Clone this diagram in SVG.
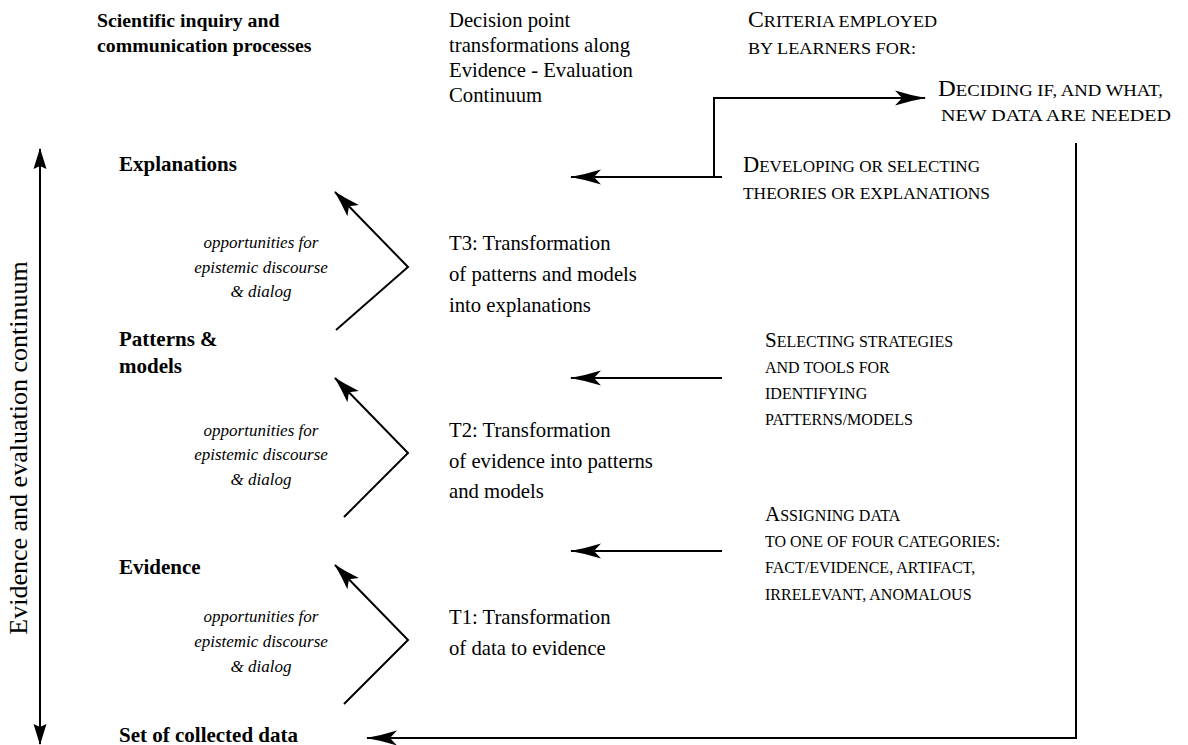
<svg xmlns="http://www.w3.org/2000/svg" width="1188" height="745" viewBox="0 0 1188 745">
<style>
text{font-family:"Liberation Serif","Times New Roman",serif;fill:#000}
.b{font-weight:bold;font-size:21px}
.hb{font-weight:bold;font-size:19.8px}
.r{font-size:20.7px}
.i{font-style:italic;font-size:17px;text-anchor:middle}
.sc{font-size:16px}
.sc2{font-size:17.5px}
.big{font-size:21px}
.big2{font-size:23px}
.ax{font-size:26px}
.ln{fill:none;stroke:#000;stroke-width:2}
</style>
<defs>
<marker id="sw" markerUnits="userSpaceOnUse" orient="auto" refX="0" refY="0" markerWidth="40" markerHeight="20" viewBox="-32 -10 34 20" overflow="visible">
<path d="M1,0 Q-14,-2.5 -30,-7.5 L-23,0 L-30,7.5 Q-14,2.5 1,0 Z" fill="#000"/>
</marker>
<marker id="ch" markerUnits="userSpaceOnUse" orient="auto" refX="0" refY="0" markerWidth="30" markerHeight="20" viewBox="-28 -10 30 20" overflow="visible">
<path d="M1,0 Q-12,-3 -26,-8 L-20,0 L-26,8 Q-12,3 1,0 Z" fill="#000"/>
</marker>
<marker id="ax" markerUnits="userSpaceOnUse" orient="auto" refX="0" refY="0" markerWidth="24" markerHeight="16" viewBox="-22 -8 24 16" overflow="visible">
<path d="M1,0 L-20,-6.5 L-17,0 L-20,6.5 Z" fill="#000"/>
</marker>
</defs>

<g id="headers">
<text class="hb" x="97" y="27">Scientific inquiry and</text>
<text class="hb" x="97" y="52">communication processes</text>
<text class="r" x="449" y="27">Decision point</text>
<text class="r" x="449" y="52">transformations along</text>
<text class="r" x="449" y="77">Evidence - Evaluation</text>
<text class="r" x="449" y="102">Continuum</text>
<text class="sc2" x="748" y="27" textLength="189" lengthAdjust="spacingAndGlyphs"><tspan class="big2">C</tspan>RITERIA EMPLOYED</text>
<text class="sc2" x="748" y="54" textLength="168" lengthAdjust="spacingAndGlyphs">BY LEARNERS FOR:</text>
</g>

<g id="axis-label">
<text class="ax" transform="translate(27,448) rotate(-90)" text-anchor="middle">Evidence and evaluation continuum</text>
</g>

<g id="node-explanations"><text class="b" x="119" y="171">Explanations</text></g>
<g id="node-patterns"><text class="b" x="119" y="346">Patterns &amp;</text><text class="b" x="119" y="373">models</text></g>
<g id="node-evidence"><text class="b" x="119" y="574">Evidence</text></g>
<g id="node-data"><text class="b" x="119" y="742">Set of collected data</text></g>

<g id="discourse-1">
<text class="i" x="261" y="248">opportunities for</text>
<text class="i" x="261" y="273">epistemic discourse</text>
<text class="i" x="261" y="297">&amp; dialog</text>
</g>
<g id="discourse-2">
<text class="i" x="261" y="436">opportunities for</text>
<text class="i" x="261" y="460">epistemic discourse</text>
<text class="i" x="261" y="485">&amp; dialog</text>
</g>
<g id="discourse-3">
<text class="i" x="261" y="622">opportunities for</text>
<text class="i" x="261" y="647">epistemic discourse</text>
<text class="i" x="261" y="672">&amp; dialog</text>
</g>

<g id="t3">
<text class="r" x="449" y="250">T3: Transformation</text>
<text class="r" x="449" y="281">of patterns and models</text>
<text class="r" x="449" y="312">into explanations</text>
</g>
<g id="t2">
<text class="r" x="449" y="437">T2: Transformation</text>
<text class="r" x="449" y="468">of evidence into patterns</text>
<text class="r" x="449" y="498">and models</text>
</g>
<g id="t1">
<text class="r" x="449" y="624">T1: Transformation</text>
<text class="r" x="449" y="655">of data to evidence</text>
</g>

<g id="crit-deciding">
<text class="sc2" x="938" y="96" textLength="225" lengthAdjust="spacingAndGlyphs"><tspan class="big2">D</tspan>ECIDING IF, AND WHAT,</text>
<text class="sc2" x="941" y="121" textLength="230" lengthAdjust="spacingAndGlyphs">NEW DATA ARE NEEDED</text>
</g>
<g id="crit-developing">
<text class="sc2" x="743" y="172" textLength="237" lengthAdjust="spacingAndGlyphs"><tspan class="big2">D</tspan>EVELOPING OR SELECTING</text>
<text class="sc2" x="743" y="199" textLength="247" lengthAdjust="spacingAndGlyphs">THEORIES OR EXPLANATIONS</text>
</g>
<g id="crit-selecting">
<text class="sc" x="765" y="347"><tspan class="big">S</tspan>ELECTING STRATEGIES</text>
<text class="sc" x="765" y="373">AND TOOLS FOR</text>
<text class="sc" x="765" y="399">IDENTIFYING</text>
<text class="sc" x="765" y="425">PATTERNS/MODELS</text>
</g>
<g id="crit-assigning">
<text class="sc" x="765" y="521"><tspan class="big">A</tspan>SSIGNING DATA</text>
<text class="sc" x="765" y="547">TO ONE OF FOUR CATEGORIES:</text>
<text class="sc" x="765" y="573">FACT/EVIDENCE, ARTIFACT,</text>
<text class="sc" x="765" y="600">IRRELEVANT, ANOMALOUS</text>
</g>

<g id="connectors">
<line class="ln" x1="40" y1="460" x2="40" y2="149" marker-end="url(#ax)"/>
<line class="ln" x1="40" y1="460" x2="40" y2="744" marker-end="url(#ax)"/>
<path class="ln" d="M336,330 L408,267 L335,192" marker-end="url(#ch)"/>
<path class="ln" d="M344,517 L408,453 L335,378" marker-end="url(#ch)"/>
<path class="ln" d="M344,704 L408,640 L335,565" marker-end="url(#ch)"/>
<line class="ln" x1="722" y1="177" x2="571" y2="177" marker-end="url(#sw)"/>
<path class="ln" d="M714,177 V98 H925" marker-end="url(#sw)"/>
<line class="ln" x1="722" y1="378" x2="571" y2="378" marker-end="url(#sw)"/>
<line class="ln" x1="722" y1="551" x2="571" y2="551" marker-end="url(#sw)"/>
<path class="ln" d="M1076,143 V738 H367" marker-end="url(#sw)"/>
</g>
</svg>
